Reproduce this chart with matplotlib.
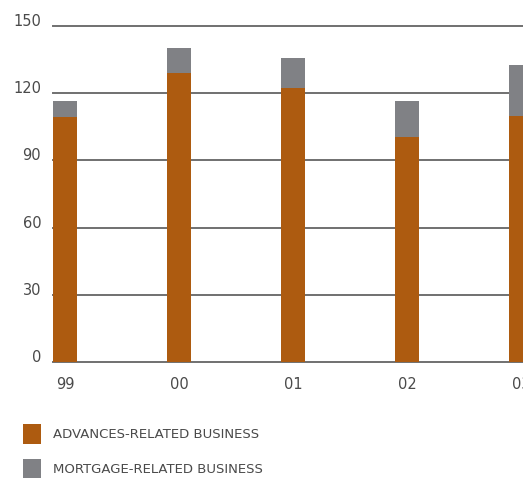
import matplotlib
matplotlib.use("Agg")
import matplotlib.pyplot as plt
import numpy as np

years = ["99", "00", "01", "02", "03"]
advances = [109.4, 129.0, 122.3, 100.4, 109.8]
mortgage = [7.1, 11.2, 13.4, 16.1, 22.8]
yticks = [0, 30, 60, 90, 120, 150]
labels = ["ADVANCES-RELATED BUSINESS", "MORTGAGE-RELATED BUSINESS"]

orange = "#AD5B10"
gray = "#808185"
textc = "#4a4a4a"
W, H = 523, 478

fig = plt.figure(figsize=(W / 100, H / 100), dpi=100)
ax = fig.add_axes([53 / W, (H - 362) / H, (W - 53) / W, 336 / H])

x = np.arange(len(years))
bw = 24 / 114
b1 = ax.bar(x, advances, width=bw, color=orange, label=labels[0], zorder=2)
b2 = ax.bar(x, mortgage, width=bw, bottom=advances, color=gray, label=labels[1], zorder=2)

ax.set_xlim(-bw / 2, -bw / 2 + (W - 53) / 114)
ax.set_ylim(0, 150)
for s in ax.spines.values():
    s.set_visible(False)
for v in yticks:
    ax.axhline(v, color="#707070", lw=1.4, clip_on=False, zorder=1)

ax.set_yticks(yticks)
ax.set_yticklabels([str(v) for v in yticks])
ax.set_xticks(x)
ax.set_xticklabels(years)
ax.tick_params(axis="both", length=0, labelsize=10.5, labelcolor=textc)
ax.tick_params(axis="y", pad=8.5)
ax.tick_params(axis="x", pad=11)
for t in ax.get_yticklabels():
    t.set_va("baseline")

fig.legend(handles=[b1, b2], labels=labels, loc="upper left",
           bbox_to_anchor=(23 / W, 1 - 424 / H), frameon=False,
           fontsize=9.5, labelcolor=textc, borderpad=0, borderaxespad=0,
           handlelength=1.36, handleheight=1.9, handletextpad=0.9,
           labelspacing=1.2)

fig.savefig("out.png", dpi=100)
